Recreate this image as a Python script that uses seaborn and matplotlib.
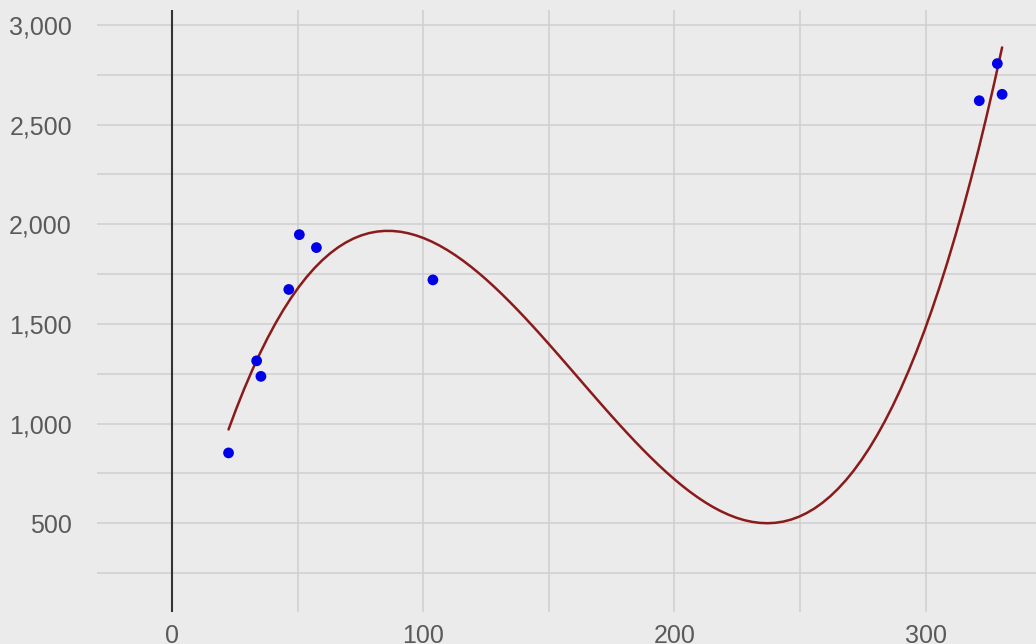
import numpy as np
import pandas as pd
import matplotlib
matplotlib.use("Agg")
import matplotlib.pyplot as plt
from matplotlib.ticker import MultipleLocator, FuncFormatter
import seaborn as sns

# data
x_vals = [22.4, 33.6, 35.3, 46.4, 50.6, 57.4, 103.8, 321.4, 328.6, 330.5]
y_vals = [853, 1315, 1237, 1673, 1948, 1883, 1721, 2620, 2806, 2652]

df = pd.DataFrame({"x": x_vals, "y": y_vals})

bg = "#ebebeb"
sns.set_style("whitegrid")
plt.rcParams["font.family"] = ["Liberation Sans", "DejaVu Sans"]

fig = plt.figure(figsize=(10.36, 6.44), dpi=100, facecolor=bg)
ax = fig.add_axes([0.0936, 0.0497, 0.9064, 0.9348])
ax.set_facecolor(bg)

# cubic trend line
sns.regplot(data=df, x="x", y="y", order=3, ci=None, scatter=False, truncate=True,
            line_kws={"color": "#8b1a1a", "lw": 1.8, "zorder": 2}, ax=ax)
sns.scatterplot(data=df, x="x", y="y", color="#0000e6", s=60, edgecolor="none",
                zorder=3, ax=ax)

ax.axvline(0, color="#333333", lw=1.5, zorder=1)

ax.set_xlim(-30, 344)
ax.set_ylim(55, 3075)
ax.xaxis.set_major_locator(MultipleLocator(100))
ax.xaxis.set_minor_locator(MultipleLocator(50))
ax.yaxis.set_major_locator(MultipleLocator(500))
ax.yaxis.set_minor_locator(MultipleLocator(250))
ax.yaxis.set_major_formatter(FuncFormatter(lambda v, p: f"{int(v):,}"))

ax.grid(which="both", color="#cfcfcf", lw=1.1)
ax.set_axisbelow(True)
for s in ax.spines.values():
    s.set_visible(False)

ax.tick_params(axis="both", which="both", length=0, labelsize=18, labelcolor="#5a5a5a")
ax.tick_params(axis="y", pad=18)
ax.tick_params(axis="x", pad=9)
ax.set_xlabel("")
ax.set_ylabel("")

fig.savefig("out.png", dpi=100, facecolor=bg)
